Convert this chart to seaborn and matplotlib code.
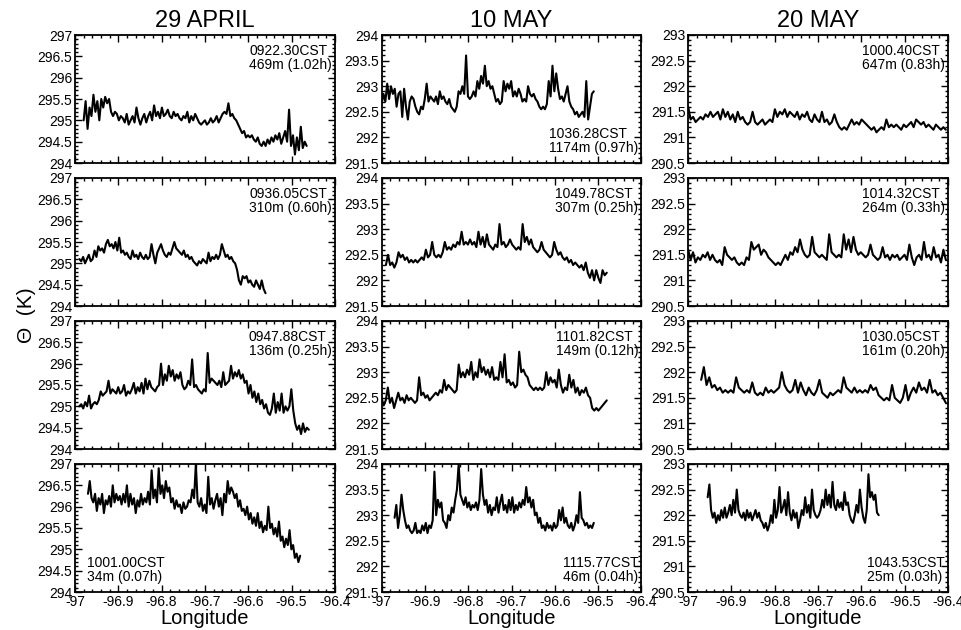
import numpy as np
import pandas as pd
import matplotlib
matplotlib.use("Agg")
import matplotlib.pyplot as plt
import seaborn as sns
from matplotlib.ticker import MultipleLocator, FuncFormatter

# ---------------------------------------------------------------------------
# Potential temperature (K) along the aircraft legs, one list per leg
# ---------------------------------------------------------------------------
days = ["29 APRIL", "10 MAY", "20 MAY"]
ylims = [(294.0, 297.0), (291.5, 294.0), (290.5, 293.0)]

# 29 April
apr29_469m = [295.0, 295.45, 294.8, 295.3, 295.1, 295.6, 295.2, 295.45, 295.0, 295.5, 295.3, 295.55, 295.4, 295.5, 295.2,
              295.1, 295.2, 295.15, 295.0, 295.1, 295.05, 294.95, 295.15, 294.9, 295.0, 295.1, 294.95, 295.3, 295.05, 294.9,
              295.05, 295.15, 294.95, 295.1, 295.2, 295.0, 295.35, 295.1, 295.2, 295.05, 295.3, 295.1, 295.15, 295.25, 295.1,
              295.05, 295.2, 295.1, 295.15, 295.05, 295.0, 295.1, 295.05, 295.2, 294.95, 295.1, 295.0, 295.15, 295.05, 294.95,
              294.9, 294.95, 295.0, 294.9, 294.95, 295.05, 294.95, 295.0, 295.1, 294.95, 295.05, 295.15, 295.2, 295.15, 295.4,
              295.1, 295.15, 295.05, 295.0, 294.9, 294.8, 294.7, 294.75, 294.6, 294.65, 294.6, 294.65, 294.55, 294.5, 294.6,
              294.45, 294.4, 294.5, 294.4, 294.55, 294.45, 294.6, 294.5, 294.65, 294.55, 294.7, 294.45, 294.6, 294.75, 294.5,
              295.25, 294.4, 294.65, 294.2, 294.6, 294.3, 294.85, 294.35, 294.5, 294.4]
apr29_310m = [295.1, 295.05, 295.15, 295.0, 295.1, 295.2, 295.05, 295.1, 295.3, 295.15, 295.4, 295.3, 295.35, 295.25, 295.45,
              295.55, 295.4, 295.45, 295.35, 295.5, 295.3, 295.6, 295.25, 295.3, 295.2, 295.25, 295.15, 295.1, 295.3, 295.15,
              295.2, 295.1, 295.25, 295.15, 295.1, 295.2, 295.1, 295.15, 295.45, 295.2, 295.0, 295.25, 295.35, 295.45, 295.3,
              295.2, 295.15, 295.25, 295.2, 295.35, 295.5, 295.35, 295.3, 295.25, 295.2, 295.3, 295.15, 295.2, 295.1, 295.15,
              295.05, 295.0, 294.95, 295.05, 295.0, 295.1, 295.05, 295.0, 295.25, 295.05, 295.15, 295.1, 295.2, 295.1, 295.2,
              295.45, 295.3, 295.15, 295.2, 295.1, 295.15, 295.05, 295.0, 294.85, 294.6, 294.5, 294.7, 294.65, 294.7, 294.55,
              294.6, 294.5, 294.45, 294.6, 294.5, 294.4, 294.6, 294.4, 294.3]
apr29_136m = [295.0, 295.05, 294.95, 295.1, 295.0, 295.25, 294.95, 295.05, 295.1, 295.05, 295.15, 295.35, 295.25, 295.3, 295.35,
              295.6, 295.3, 295.4, 295.35, 295.3, 295.45, 295.3, 295.35, 295.5, 295.25, 295.35, 295.3, 295.4, 295.55, 295.3,
              295.45, 295.35, 295.55, 295.3, 295.65, 295.4, 295.6, 295.45, 295.4, 295.35, 295.45, 295.5, 296.0, 295.5, 295.75,
              295.6, 295.95, 295.7, 295.85, 295.6, 295.75, 295.65, 295.8, 295.5, 295.4, 295.45, 295.6, 295.5, 296.1, 295.45,
              295.5, 295.4, 295.35, 295.3, 295.4, 295.35, 296.25, 295.55, 295.65, 295.6, 295.55, 295.5, 295.6, 295.45, 295.8,
              295.5, 295.55, 295.6, 295.95, 295.65, 295.8, 295.7, 295.85, 295.65, 295.75, 295.55, 295.6, 295.3, 295.5, 295.2,
              295.35, 295.1, 295.3, 295.05, 295.15, 294.95, 295.05, 294.85, 294.8, 294.95, 295.3, 294.85, 295.1, 294.9, 295.3,
              294.85, 295.0, 294.9, 295.0, 295.4, 294.9, 294.6, 294.45, 294.55, 294.35, 294.6, 294.4, 294.5, 294.45]
apr29_34m = [296.3, 296.6, 296.2, 296.1, 296.3, 295.9, 296.2, 296.05, 296.3, 295.85, 296.15, 296.05, 296.25, 296.0, 296.5,
             296.1, 296.3, 296.15, 296.25, 296.05, 296.3, 296.1, 296.5, 296.0, 296.3, 296.05, 296.2, 295.85, 296.15, 296.0,
             296.3, 296.05, 296.2, 296.1, 296.35, 296.05, 296.85, 296.2, 296.4, 296.1, 296.9, 296.3, 296.5, 296.2, 296.6,
             296.35, 296.45, 296.1, 296.2, 295.95, 296.15, 296.0, 296.05, 295.85, 296.1, 295.95, 296.0, 296.15, 296.1, 296.4,
             296.2, 297.0, 296.1, 296.0, 296.2, 295.9, 296.05, 295.85, 296.7, 296.05, 296.2, 295.95, 296.15, 296.3, 296.0,
             296.2, 295.8, 296.3, 296.1, 296.6, 296.3, 296.45, 296.35, 296.2, 296.3, 296.0, 296.15, 295.9, 295.95, 295.8,
             296.0, 295.7, 295.85, 295.6, 295.75, 295.55, 295.85, 295.5, 295.65, 295.4, 295.55, 295.45, 296.0, 295.5, 295.6,
             295.35, 295.5, 295.3, 295.65, 295.2, 295.3, 295.05, 295.25, 295.1, 295.45, 295.0, 295.1, 294.8, 294.9, 294.7,
             294.85]

# 10 May
may10_1174m = [292.65, 292.85, 292.7, 293.05, 292.75, 293.0, 292.85, 292.95, 292.6, 292.85, 292.9, 292.4, 292.95, 292.6, 292.35,
               292.7, 292.8, 292.75, 292.6, 292.5, 292.45, 292.6, 292.55, 292.75, 293.05, 292.7, 292.8, 292.75, 292.7, 292.8,
               292.65, 292.9, 292.75, 292.8, 292.7, 292.65, 292.75, 292.6, 292.55, 292.5, 292.6, 292.9, 292.85, 293.0, 292.85,
               293.6, 292.8, 292.75, 292.8, 292.9, 292.8, 293.1, 292.95, 293.2, 293.05, 293.4, 293.0, 293.1, 292.95, 293.0,
               292.85, 292.7, 292.75, 292.65, 292.7, 293.1, 292.9, 293.05, 292.95, 293.1, 292.8, 292.9, 292.8, 292.95, 292.85,
               292.7, 292.75, 292.7, 293.0, 292.85, 292.8, 292.85, 292.75, 292.7, 292.6, 292.55, 292.6, 292.55, 292.65, 293.1,
               292.8, 293.4, 292.9, 293.25, 292.95, 292.75, 292.8, 292.7, 292.85, 293.0, 292.7, 292.6, 292.55, 292.45, 292.5,
               292.4, 292.45, 292.5, 292.4, 293.1, 292.35, 292.6, 292.85, 292.9]
may10_307m = [292.3, 292.5, 292.3, 292.35, 292.25, 292.35, 292.55, 292.45, 292.5, 292.4, 292.45, 292.35, 292.4, 292.35, 292.4,
              292.35, 292.4, 292.45, 292.4, 292.6, 292.45, 292.5, 292.75, 292.5, 292.45, 292.5, 292.45, 292.55, 292.75, 292.6,
              292.65, 292.6, 292.7, 292.65, 292.75, 292.7, 292.95, 292.7, 292.75, 292.7, 292.8, 292.7, 292.75, 292.65, 292.95,
              292.7, 292.85, 292.65, 292.9, 292.7, 292.65, 292.6, 292.7, 292.65, 293.1, 292.7, 292.75, 292.65, 292.7, 292.8,
              292.7, 292.65, 292.6, 292.65, 292.6, 293.1, 292.75, 292.85, 292.7, 292.8, 292.65, 292.6, 292.55, 292.6, 292.75,
              292.6, 292.55, 292.5, 292.45, 292.5, 292.75, 292.6, 292.5, 292.55, 292.45, 292.4, 292.45, 292.35, 292.4, 292.3,
              292.35, 292.3, 292.25, 292.3, 292.2, 292.35, 292.15, 292.05, 292.2, 292.0, 292.2, 292.05, 291.95, 292.2, 292.1,
              292.15]
may10_149m = [292.5, 292.35, 292.45, 292.7, 292.4, 292.5, 292.3, 292.45, 292.6, 292.45, 292.5, 292.4, 292.55, 292.45, 292.5,
              292.45, 292.4, 292.45, 292.9, 292.55, 292.6, 292.5, 292.55, 292.45, 292.5, 292.55, 292.6, 292.55, 292.65, 292.6,
              292.85, 292.65, 292.75, 292.7, 292.65, 292.6, 292.65, 293.15, 292.9, 293.0, 292.9, 293.05, 292.95, 293.2, 292.85,
              293.0, 292.9, 293.25, 293.0, 293.1, 292.95, 293.05, 292.9, 293.1, 292.85, 292.9, 292.85, 293.2, 292.9, 293.35,
              292.8, 292.85, 292.75, 292.8, 292.7, 292.75, 293.4, 293.0, 293.05, 292.95, 292.9, 292.75, 292.7, 292.65, 292.7,
              292.65, 292.7, 292.65, 292.7, 293.0, 292.75, 292.9, 292.8, 292.85, 292.7, 293.05, 292.75, 292.6, 292.7, 292.65,
              292.95, 292.7, 292.85, 292.6, 292.7, 292.55, 292.65, 292.6, 292.7, 292.55, 292.5, 292.3, 292.25, 292.3, 292.25,
              292.3, 292.35, 292.4, 292.45]
may10_46m = [292.95, 293.2, 292.75, 293.0, 293.4, 293.1, 292.9, 292.75, 292.8, 292.7, 292.65, 292.7, 292.85, 292.65, 292.7,
             292.65, 292.8, 292.7, 292.85, 292.65, 292.8, 292.75, 292.9, 293.85, 293.0, 293.3, 293.15, 293.25, 292.9, 292.85,
             292.75, 293.0, 292.9, 293.15, 293.05, 293.3, 293.5, 294.0, 293.4, 293.3, 293.2, 293.35, 293.15, 293.25, 293.1,
             293.2, 293.15, 293.25, 293.1, 293.3, 293.9, 293.4, 293.2, 293.3, 293.05, 293.2, 293.0, 293.15, 293.1, 293.35,
             293.05, 293.25, 293.4, 293.1, 293.2, 293.05, 293.3, 293.1, 293.35, 293.05, 293.2, 293.1, 293.25, 293.15, 293.3,
             293.2, 293.55, 293.25, 293.35, 293.15, 293.3, 293.0, 293.05, 292.85, 292.95, 292.75, 292.8, 292.7, 292.85, 292.75,
             292.8, 292.7, 292.85, 292.75, 292.8, 293.1, 292.9, 293.15, 292.85, 292.95, 292.8, 292.75, 292.85, 292.7, 292.8,
             293.0, 292.85, 293.45, 292.95, 292.9, 292.8, 292.85, 292.75, 292.8, 292.75, 292.85]

# 20 May
may20_647m = [291.6, 291.35, 291.4, 291.3, 291.35, 291.4, 291.35, 291.45, 291.4, 291.5, 291.4, 291.45, 291.5, 291.35, 291.55,
              291.4, 291.5, 291.35, 291.45, 291.3, 291.5, 291.35, 291.4, 291.3, 291.25, 291.3, 291.5, 291.3, 291.25, 291.3,
              291.35, 291.25, 291.3, 291.35, 291.3, 291.55, 291.4, 291.5, 291.45, 291.55, 291.4, 291.5, 291.45, 291.4, 291.5,
              291.35, 291.45, 291.4, 291.5, 291.35, 291.3, 291.45, 291.35, 291.3, 291.5, 291.3, 291.35, 291.25, 291.3, 291.45,
              291.3, 291.2, 291.15, 291.2, 291.15, 291.25, 291.35, 291.25, 291.3, 291.25, 291.35, 291.3, 291.25, 291.2, 291.15,
              291.2, 291.1, 291.15, 291.2, 291.15, 291.35, 291.2, 291.25, 291.2, 291.25, 291.2, 291.15, 291.25, 291.2, 291.25,
              291.3, 291.2, 291.35, 291.3, 291.25, 291.3, 291.2, 291.25, 291.2, 291.15, 291.25, 291.2, 291.15, 291.2, 291.15]
may20_264m = [291.6, 291.4, 291.55, 291.35, 291.45, 291.4, 291.5, 291.45, 291.55, 291.4, 291.5, 291.4, 291.35, 291.4, 291.3,
              291.65, 291.5, 291.45, 291.4, 291.45, 291.35, 291.3, 291.35, 291.3, 291.45, 291.4, 291.75, 291.6, 291.65, 291.7,
              291.5, 291.6, 291.55, 291.45, 291.4, 291.35, 291.3, 291.35, 291.3, 291.4, 291.5, 291.4, 291.55, 291.5, 291.65,
              291.55, 291.8, 291.6, 291.5, 291.45, 291.5, 291.85, 291.55, 291.5, 291.45, 291.5, 291.45, 291.4, 291.9, 291.55,
              291.5, 291.45, 291.5, 291.45, 291.9, 291.6, 291.8, 291.55, 291.85, 291.6, 291.5, 291.55, 291.5, 291.45, 291.5,
              291.7, 291.5, 291.45, 291.4, 291.45, 291.65, 291.45, 291.5, 291.4, 291.5, 291.45, 291.5, 291.4, 291.45, 291.5,
              291.4, 291.7, 291.45, 291.3, 291.45, 291.5, 291.4, 291.75, 291.45, 291.5, 291.4, 291.65, 291.45, 291.5, 291.35,
              291.6, 291.4]
may20_161m = [291.85, 292.1, 291.75, 291.9, 291.7, 291.75, 291.65, 291.7, 291.6, 291.65, 291.6, 291.65, 291.6, 291.9, 291.7,
              291.65, 291.6, 291.65, 291.6, 291.8, 291.6, 291.55, 291.6, 291.55, 291.7, 291.6, 291.65, 291.6, 291.65, 291.7,
              292.0, 291.75, 291.65, 291.6, 291.65, 291.85, 291.6, 291.8, 291.65, 291.55, 291.7, 291.6, 291.55, 291.65, 291.85,
              291.6, 291.55, 291.5, 291.6, 291.55, 291.6, 291.65, 291.6, 291.9, 291.7, 291.65, 291.6, 291.7, 291.6, 291.65,
              291.6, 291.65, 291.6, 291.75, 291.65, 291.7, 291.55, 291.5, 291.45, 291.5, 291.45, 291.75, 291.5, 291.45, 291.4,
              291.5, 291.75, 291.45, 291.6, 291.7, 291.6, 291.8, 291.65, 291.7, 291.6, 291.85, 291.6, 291.65, 291.55, 291.6,
              291.5, 291.4]
may20_25m = [292.35, 292.6, 292.1, 291.95, 292.05, 291.85, 292.0, 291.9, 292.1, 291.95, 292.15, 291.95, 292.05, 292.2, 292.0,
             292.3, 292.05, 292.5, 292.1, 292.0, 291.95, 292.05, 291.9, 292.1, 291.95, 292.05, 291.9, 292.0, 292.1, 291.95,
             292.05, 291.9, 291.85, 291.75, 291.85, 291.7, 291.8, 292.0, 291.85, 292.3, 291.95, 292.1, 292.55, 292.05, 292.15,
             292.3, 292.0, 292.45, 292.05, 291.9, 292.1, 291.95, 292.05, 291.75, 291.9, 292.1, 292.0, 292.35, 292.05, 292.2,
             291.95, 292.5, 292.1, 292.0, 291.95, 292.0, 292.1, 292.3, 292.15, 292.5, 292.2, 292.4, 292.15, 292.65, 292.2,
             292.1, 292.3, 292.15, 292.25, 292.1, 292.45, 292.2, 292.25, 292.0, 291.9, 291.85, 292.0, 292.2, 292.05, 292.5,
             292.15, 291.95, 291.85, 292.1, 292.8, 292.35, 292.45, 292.3, 292.4, 292.05, 292.0]

# Longitude span (deg) covered by each leg: (west end, east end)
lon_spans = [
    [(-96.98, -96.465), (-97.0, -96.51), (-97.0, -96.405)],
    [(-96.99, -96.56), (-96.99, -96.48), (-97.0, -96.405)],
    [(-96.99, -96.46), (-97.0, -96.48), (-96.97, -96.405)],
    [(-96.97, -96.48), (-96.97, -96.51), (-96.955, -96.56)],
]
legs = [
    [apr29_469m, may10_1174m, may20_647m],
    [apr29_310m, may10_307m, may20_264m],
    [apr29_136m, may10_149m, may20_161m],
    [apr29_34m, may10_46m, may20_25m],
]
leg_labels = [
    ["0922.30CST\n469m (1.02h)", "1036.28CST\n1174m (0.97h)", "1000.40CST\n647m (0.83h)"],
    ["0936.05CST\n310m (0.60h)", "1049.78CST\n307m (0.25h)", "1014.32CST\n264m (0.33h)"],
    ["0947.88CST\n136m (0.25h)", "1101.82CST\n149m (0.12h)", "1030.05CST\n161m (0.20h)"],
    ["1001.00CST\n34m (0.07h)", "1115.77CST\n46m (0.04h)", "1043.53CST\n25m (0.03h)"],
]
# where each label sits inside its panel
label_corner = [
    ["tr", "br", "tr"],
    ["tr", "tr", "tr"],
    ["tr", "tr", "tr"],
    ["bl", "br", "br"],
]

# ---------------------------------------------------------------------------
sns.set_theme(style="ticks", rc={"axes.edgecolor": "black", "xtick.color": "black",
                                 "ytick.color": "black", "axes.linewidth": 1.3,
                                 "text.color": "black", "axes.labelcolor": "black"})
plt.rcParams["font.family"] = ["Liberation Sans Narrow", "Liberation Sans", "DejaVu Sans"]
text_family = ["Liberation Sans", "DejaVu Sans"]

fig, axes = plt.subplots(4, 3, figsize=(9.62, 6.3), dpi=100)
fig.subplots_adjust(left=75 / 962, right=948 / 962, top=1 - 35 / 630, bottom=1 - 592 / 630,
                    wspace=0.18, hspace=0.117)

fmt = FuncFormatter(lambda v, p: f"{v:g}")

for r in range(4):
    for c in range(3):
        ax = axes[r, c]
        vals = np.asarray(legs[r][c])
        w, e = lon_spans[r][c]
        df = pd.DataFrame({"lon": np.linspace(w, e, len(vals)), "theta": vals})
        sns.lineplot(data=df, x="lon", y="theta", ax=ax, color="black", lw=1.5,
                     estimator=None, sort=False)
        ax.set_xlim(-97.0, -96.4)
        ax.set_ylim(*ylims[c])
        ax.xaxis.set_major_locator(MultipleLocator(0.1))
        ax.xaxis.set_minor_locator(MultipleLocator(0.02))
        ax.yaxis.set_major_locator(MultipleLocator(0.5))
        ax.yaxis.set_minor_locator(MultipleLocator(0.1))
        ax.xaxis.set_major_formatter(fmt)
        ax.yaxis.set_major_formatter(fmt)
        ax.tick_params(which="both", direction="in", top=True, right=True, width=1.0)
        ax.tick_params(which="major", length=5, labelsize=10)
        ax.tick_params(axis="y", which="major", pad=2)
        ax.tick_params(axis="x", which="major", pad=2)
        ax.tick_params(which="minor", length=2.5)
        ax.set_ylabel("")
        if r == 3:
            ax.set_xlabel("Longitude", fontsize=14.5, family=text_family, labelpad=0)
        else:
            ax.set_xlabel("")
            ax.tick_params(labelbottom=False)
        if r == 0:
            ax.set_title(days[c], fontsize=17, family=text_family, pad=6)

        corner = label_corner[r][c]
        if corner == "tr":
            xy, off, ha, va = (1, 1), (-3, -9), "right", "top"
        elif corner == "br":
            xy, off, ha, va = (1, 0), (-3, 8), "right", "bottom"
        else:
            xy, off, ha, va = (0, 0), (12, 8), "left", "bottom"
        ax.annotate(leg_labels[r][c], xy=xy, xycoords="axes fraction", xytext=off,
                    textcoords="offset pixels", ha=ha, va=va, fontsize=10,
                    family=text_family, linespacing=1.0, multialignment="left")

fig.text(27 / 962, 0.5, "Θ  (K)", rotation=90, ha="center", va="center",
         fontsize=15, family=text_family)

fig.savefig("out.png", dpi=100)
